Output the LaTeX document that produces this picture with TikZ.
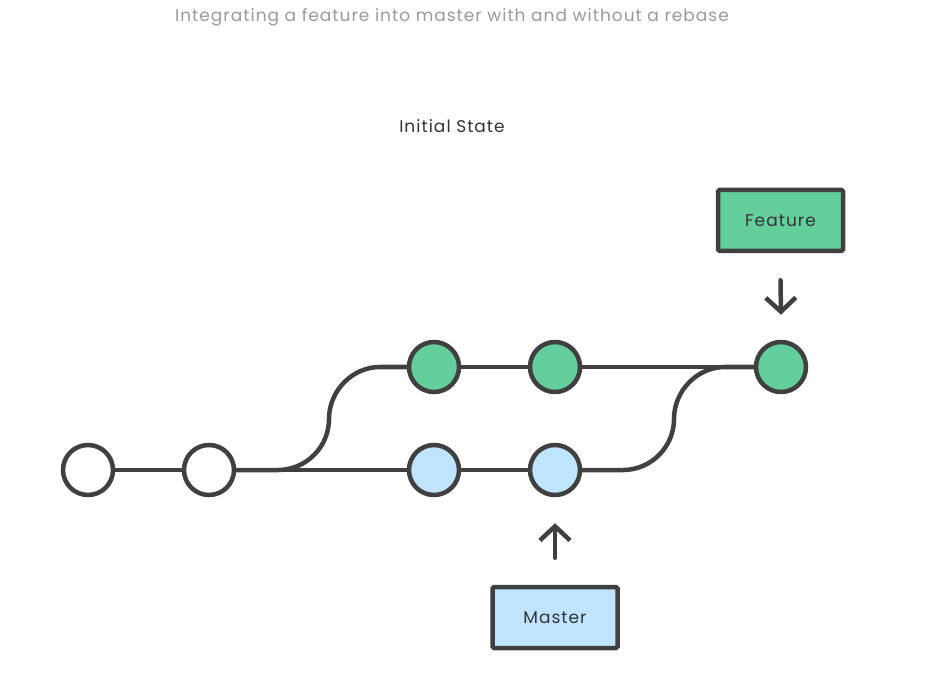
\documentclass[tikz,border=0pt]{standalone}
\usepackage{fontspec}
\setmainfont{Poppins}[LetterSpace=6, Ligatures={NoCommon}]
\usepackage{xcolor}
\usetikzlibrary{arrows.meta,positioning,calc}
\definecolor{linegray}{HTML}{404040}
\definecolor{featgreen}{HTML}{64CE9D}
\definecolor{mastblue}{HTML}{BEE4FF}
\definecolor{titlegray}{HTML}{9A9A9A}
\definecolor{textgray}{HTML}{333333}

\begin{document}
\begin{tikzpicture}[x=1pt,y=-1pt,
    commit/.style={circle, draw=linegray, line width=4.5pt, minimum size=50pt, inner sep=0pt, fill=white},
    labelbox/.style={draw=linegray, line width=4.5pt, minimum width=125pt, minimum height=61pt, rounded corners=1.5pt, font=\fontsize{17}{20}\selectfont, text=textgray},
    branch/.style={draw=linegray, line width=4.5pt},
    pointer/.style={draw=linegray, line width=4.5pt, line cap=round, -{Straight Barb[length=14pt,width=30pt]}}]
    \useasboundingbox (0,0) rectangle (938,687);

    % Titles
    \node[text=titlegray, font=\fontsize{17}{20}\selectfont] (title) at (452,17) {Integrating a feature into master with and without a rebase};
    \node[text=textgray, font=\fontsize{17}{20}\selectfont] (state) at (452,126) {Initial State};

    % Branch lines (under the commits)
    \draw[branch] (88,470) -- (555,470);
    \draw[branch] (434,367) -- (781,367);
    \draw[branch] (236,470) -- (278,470) .. controls (306,470) and (329,447) .. (329,419)
        .. controls (329,391) and (352,367) .. (380,367) -- (434,367);
    \draw[branch] (555,470) -- (623,470) .. controls (651,470) and (674,447) .. (674,419)
        .. controls (674,391) and (697,367) .. (725,367) -- (781,367);

    % Commits on master
    \node[commit] (b1) at (88,470) {};
    \node[commit] (b2) at (209,470) {};
    \node[commit, fill=mastblue] (b3) at (434,470) {};
    \node[commit, fill=mastblue] (b4) at (555,470) {};

    % Commits on feature
    \node[commit, fill=featgreen] (t1) at (434,367) {};
    \node[commit, fill=featgreen] (t2) at (555,367) {};
    \node[commit, fill=featgreen] (t3) at (781,367) {};

    % Branch labels
    \node[labelbox, fill=featgreen] (feat) at (780.5,220.5) {Feature};
    \node[labelbox, fill=mastblue] (mast) at (555,617.5) {Master};
    \draw[pointer] ([yshift=-27pt]feat.south) -- ([yshift=25pt]t3.north);
    \draw[pointer] ([yshift=27pt]mast.north) -- ([yshift=-26pt]b4.south);
\end{tikzpicture}
\end{document}
